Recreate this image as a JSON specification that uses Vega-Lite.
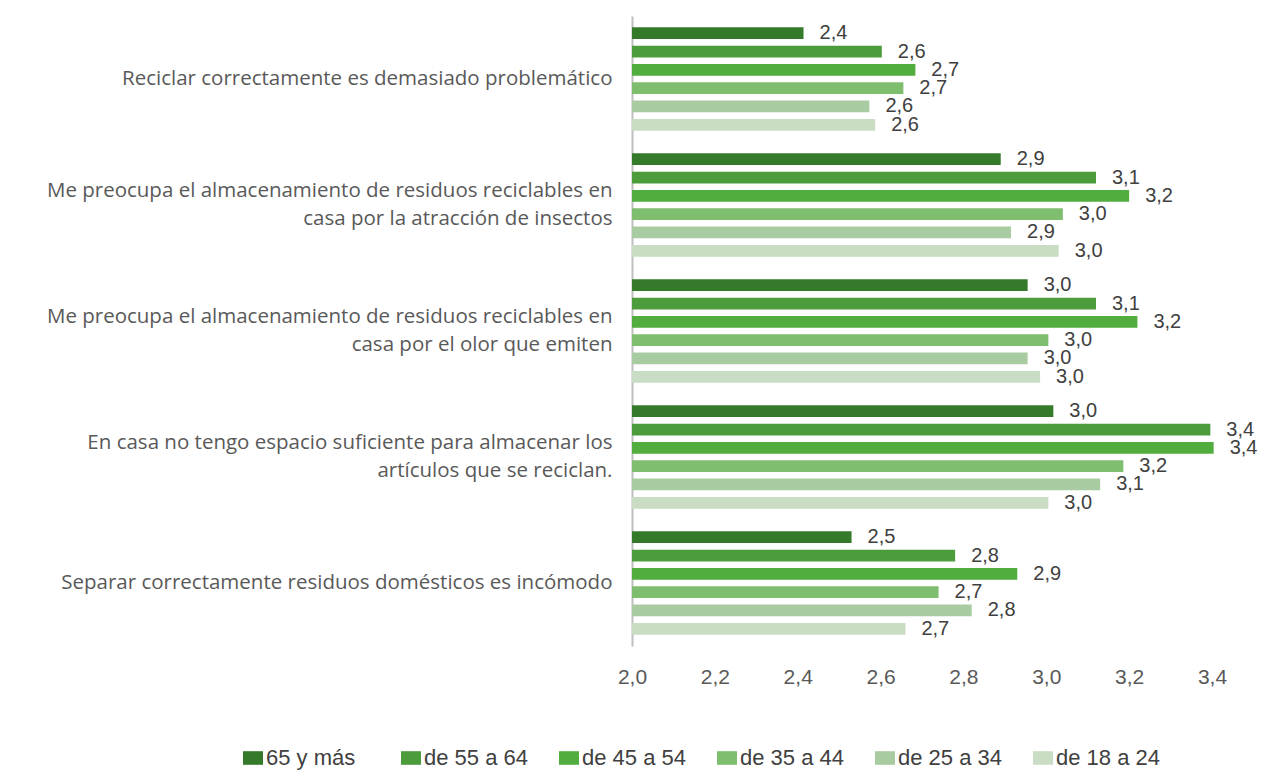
{
  "$schema": "https://vega.github.io/schema/vega-lite/v6.json",
  "width": 580,
  "height": 630,
  "autosize": {"type": "none"},
  "padding": {"left": 632, "top": 16, "right": 56, "bottom": 129},
  "background": "white",
  "config": {
    "view": {"stroke": null},
    "font": "Liberation Sans",
    "locale": {"number": {"decimal": ",", "thousands": ".", "grouping": [3], "currency": ["", " €"]}}
  },
  "data": {
    "values": [
      {"afirmacion": "Reciclar correctamente  es demasiado problemático", "edad": "65 y más", "valor": 2.414},
      {"afirmacion": "Reciclar correctamente  es demasiado problemático", "edad": "de 55 a 64", "valor": 2.603},
      {"afirmacion": "Reciclar correctamente  es demasiado problemático", "edad": "de 45 a 54", "valor": 2.684},
      {"afirmacion": "Reciclar correctamente  es demasiado problemático", "edad": "de 35 a 44", "valor": 2.655},
      {"afirmacion": "Reciclar correctamente  es demasiado problemático", "edad": "de 25 a 34", "valor": 2.573},
      {"afirmacion": "Reciclar correctamente  es demasiado problemático", "edad": "de 18 a 24", "valor": 2.587},
      {"afirmacion": "Me preocupa el  almacenamiento de residuos reciclables en|casa  por la atracción de insectos", "edad": "65 y más", "valor": 2.89},
      {"afirmacion": "Me preocupa el  almacenamiento de residuos reciclables en|casa  por la atracción de insectos", "edad": "de 55 a 64", "valor": 3.12},
      {"afirmacion": "Me preocupa el  almacenamiento de residuos reciclables en|casa  por la atracción de insectos", "edad": "de 45 a 54", "valor": 3.2},
      {"afirmacion": "Me preocupa el  almacenamiento de residuos reciclables en|casa  por la atracción de insectos", "edad": "de 35 a 44", "valor": 3.04},
      {"afirmacion": "Me preocupa el  almacenamiento de residuos reciclables en|casa  por la atracción de insectos", "edad": "de 25 a 34", "valor": 2.915},
      {"afirmacion": "Me preocupa el  almacenamiento de residuos reciclables en|casa  por la atracción de insectos", "edad": "de 18 a 24", "valor": 3.03},
      {"afirmacion": "Me preocupa el  almacenamiento de residuos reciclables en|casa  por el olor que emiten", "edad": "65 y más", "valor": 2.955},
      {"afirmacion": "Me preocupa el  almacenamiento de residuos reciclables en|casa  por el olor que emiten", "edad": "de 55 a 64", "valor": 3.12},
      {"afirmacion": "Me preocupa el  almacenamiento de residuos reciclables en|casa  por el olor que emiten", "edad": "de 45 a 54", "valor": 3.22},
      {"afirmacion": "Me preocupa el  almacenamiento de residuos reciclables en|casa  por el olor que emiten", "edad": "de 35 a 44", "valor": 3.005},
      {"afirmacion": "Me preocupa el  almacenamiento de residuos reciclables en|casa  por el olor que emiten", "edad": "de 25 a 34", "valor": 2.955},
      {"afirmacion": "Me preocupa el  almacenamiento de residuos reciclables en|casa  por el olor que emiten", "edad": "de 18 a 24", "valor": 2.985},
      {"afirmacion": "En casa no tengo  espacio suficiente para almacenar los|artículos  que se reciclan.", "edad": "65 y más", "valor": 3.017},
      {"afirmacion": "En casa no tengo  espacio suficiente para almacenar los|artículos  que se reciclan.", "edad": "de 55 a 64", "valor": 3.396},
      {"afirmacion": "En casa no tengo  espacio suficiente para almacenar los|artículos  que se reciclan.", "edad": "de 45 a 54", "valor": 3.404},
      {"afirmacion": "En casa no tengo  espacio suficiente para almacenar los|artículos  que se reciclan.", "edad": "de 35 a 44", "valor": 3.186},
      {"afirmacion": "En casa no tengo  espacio suficiente para almacenar los|artículos  que se reciclan.", "edad": "de 25 a 34", "valor": 3.13},
      {"afirmacion": "En casa no tengo  espacio suficiente para almacenar los|artículos  que se reciclan.", "edad": "de 18 a 24", "valor": 3.005},
      {"afirmacion": "Separar correctamente  residuos domésticos es incómodo", "edad": "65 y más", "valor": 2.53},
      {"afirmacion": "Separar correctamente  residuos domésticos es incómodo", "edad": "de 55 a 64", "valor": 2.78},
      {"afirmacion": "Separar correctamente  residuos domésticos es incómodo", "edad": "de 45 a 54", "valor": 2.93},
      {"afirmacion": "Separar correctamente  residuos domésticos es incómodo", "edad": "de 35 a 44", "valor": 2.74},
      {"afirmacion": "Separar correctamente  residuos domésticos es incómodo", "edad": "de 25 a 34", "valor": 2.82},
      {"afirmacion": "Separar correctamente  residuos domésticos es incómodo", "edad": "de 18 a 24", "valor": 2.66}
    ]
  },
  "encoding": {
    "y": {
      "field": "afirmacion",
      "type": "nominal",
      "sort": null,
      "scale": {"paddingInner": 0.18, "paddingOuter": 0.09},
      "axis": {
        "title": null,
        "domain": true,
        "domainColor": "#bfbfbf",
        "domainWidth": 2,
        "ticks": false,
        "labelPadding": 20,
        "labelFont": "Open Sans",
        "labelFontSize": 20.5,
        "labelColor": "#595959",
        "labelLimit": 0,
        "labelLineHeight": 28,
        "labelOffset": {"condition": {"test": "indexof(datum.value, '|') >= 0", "value": -14}, "value": 0},
        "labelExpr": "split(datum.label, '|')"
      }
    },
    "yOffset": {
      "field": "edad",
      "type": "nominal",
      "sort": ["65 y más", "de 55 a 64", "de 45 a 54", "de 35 a 44", "de 25 a 34", "de 18 a 24"],
      "scale": {"paddingInner": 0.36, "paddingOuter": 0}
    },
    "x": {
      "field": "valor",
      "type": "quantitative",
      "scale": {"domain": [2, 3.4], "zero": false},
      "axis": {
        "title": null,
        "domain": false,
        "ticks": false,
        "grid": false,
        "labelFlush": false,
        "values": [2, 2.2, 2.4, 2.6, 2.8, 3.0, 3.2, 3.4],
        "format": ".1f",
        "labelPadding": 20,
        "labelFontSize": 21,
        "labelColor": "#595959"
      }
    }
  },
  "layer": [
    {
      "mark": {"type": "bar"},
      "encoding": {
        "x2": {"datum": 2},
        "color": {
          "field": "edad",
          "type": "nominal",
          "scale": {
            "domain": ["65 y más", "de 55 a 64", "de 45 a 54", "de 35 a 44", "de 25 a 34", "de 18 a 24"],
            "range": ["#357a2b", "#4d9c3c", "#52ad3f", "#7fbd6f", "#a9cba2", "#c9ddc4"]
          },
          "legend": {
            "title": null,
            "orient": "none",
            "direction": "horizontal",
            "legendX": -390,
            "legendY": 731,
            "symbolType": "M-1,-0.68H1V0.68H-1Z",
            "symbolSize": 400,
            "symbolStrokeWidth": 0,
            "labelFontSize": 22,
            "labelColor": "#404040",
            "gridAlign": "all",
            "columnPadding": 30,
            "labelOffset": 2
          }
        }
      }
    },
    {
      "mark": {"type": "text", "align": "left", "baseline": "middle", "dx": 16, "fontSize": 20, "color": "#404040"},
      "encoding": {
        "text": {"field": "valor", "type": "quantitative", "format": ".1f"}
      }
    }
  ]
}
